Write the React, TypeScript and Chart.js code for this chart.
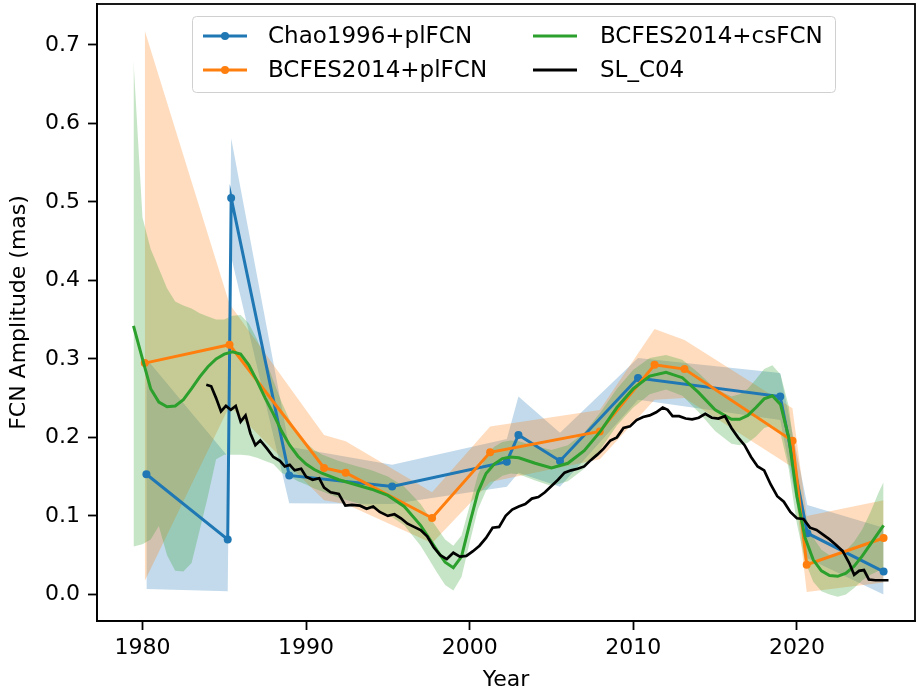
import React, { useEffect, useRef } from "react";
import { Chart, registerables } from "chart.js";

Chart.register(...registerables);

const FONT = "'DejaVu Sans', sans-serif";

// ---------------- data ----------------
const xTickValues = [1980, 1990, 2000, 2010, 2020];
const yTickValues = [0, 0.1, 0.2, 0.3, 0.4, 0.5, 0.6, 0.7];
const seriesNames = ["Chao1996+plFCN", "BCFES2014+plFCN", "BCFES2014+csFCN", "SL_C04"];

// Chao1996+plFCN
const chaoYears = [1980.24, 1985.21, 1985.42, 1988.97, 1995.26, 2002.27, 2002.98, 2005.52, 2010.29, 2018.98, 2020.64, 2025.3];
const chaoAmp = [0.153, 0.07, 0.505, 0.1515, 0.1375, 0.169, 0.203, 0.17, 0.2755, 0.252, 0.078, 0.029];
const chaoLow = [0.007, 0.004, 0.43, 0.116, 0.115, 0.137, 0.155, 0.137, 0.248, 0.222, 0.046, 0.0];
const chaoHigh = [0.3, 0.176, 0.581, 0.188, 0.165, 0.198, 0.252, 0.206, 0.301, 0.282, 0.114, 0.085];

// BCFES2014+plFCN
const bcplYears = [1980.14, 1985.32, 1991.1, 1992.42, 1997.7, 2001.25, 2007.95, 2011.3, 2013.13, 2019.73, 2020.6, 2025.3];
const bcplAmp = [0.2946, 0.318, 0.161, 0.155, 0.0973, 0.181, 0.2076, 0.2925, 0.287, 0.1957, 0.0378, 0.0718];
const bcplLow = [0.017, 0.24, 0.12, 0.115, 0.065, 0.143, 0.172, 0.248, 0.25, 0.162, 0.003, 0.015];
const bcplHigh = [0.718, 0.37, 0.203, 0.195, 0.13, 0.214, 0.235, 0.338, 0.324, 0.237, 0.1, 0.12];

// BCFES2014+csFCN
const bccsYears = [1979.45, 1980.0, 1980.5, 1981.0, 1981.5, 1982.0, 1982.5, 1983.0, 1983.5, 1984.0, 1984.5, 1985.0, 1985.5, 1986.0, 1986.5, 1987.0, 1987.5, 1988.0, 1988.5, 1989.0, 1989.5, 1990.0, 1990.5, 1991.0, 1992.0, 1993.0, 1994.0, 1995.0, 1996.0, 1997.0, 1997.5, 1998.0, 1998.5, 1999.0, 1999.5, 2000.0, 2000.5, 2001.0, 2001.5, 2002.0, 2002.5, 2003.0, 2004.0, 2005.0, 2006.0, 2007.0, 2008.0, 2009.0, 2010.0, 2011.0, 2012.0, 2013.0, 2014.0, 2015.0, 2016.0, 2016.5, 2017.0, 2017.5, 2018.0, 2018.5, 2019.0, 2019.5, 2020.0, 2020.5, 2021.0, 2021.5, 2022.0, 2022.5, 2023.0, 2023.5, 2024.0, 2024.5, 2025.0, 2025.3];
const bccsAmp = [0.342, 0.3, 0.262, 0.245, 0.239, 0.24, 0.248, 0.262, 0.277, 0.29, 0.3, 0.306, 0.309, 0.306, 0.292, 0.272, 0.25, 0.23, 0.208, 0.19, 0.176, 0.166, 0.159, 0.154, 0.146, 0.14, 0.134, 0.126, 0.112, 0.088, 0.072, 0.056, 0.041, 0.034, 0.048, 0.09, 0.13, 0.154, 0.166, 0.173, 0.175, 0.174, 0.167, 0.161, 0.167, 0.183, 0.208, 0.238, 0.262, 0.278, 0.283, 0.276, 0.257, 0.235, 0.223, 0.223, 0.228, 0.238, 0.249, 0.253, 0.242, 0.2, 0.125, 0.072, 0.044, 0.03, 0.024, 0.023, 0.027, 0.036, 0.049, 0.064, 0.079, 0.088];
const bccsHigh = [0.68, 0.48, 0.44, 0.415, 0.39, 0.373, 0.368, 0.364, 0.358, 0.354, 0.35, 0.35, 0.355, 0.356, 0.345, 0.325, 0.3, 0.272, 0.245, 0.222, 0.205, 0.193, 0.184, 0.178, 0.17, 0.164, 0.158, 0.15, 0.137, 0.115, 0.1, 0.085, 0.07, 0.062, 0.075, 0.113, 0.152, 0.176, 0.188, 0.194, 0.196, 0.195, 0.189, 0.184, 0.19, 0.206, 0.232, 0.262, 0.286, 0.301, 0.305, 0.299, 0.282, 0.262, 0.252, 0.255, 0.262, 0.274, 0.287, 0.292, 0.28, 0.24, 0.16, 0.102, 0.072, 0.057, 0.05, 0.05, 0.056, 0.067, 0.083, 0.105, 0.13, 0.143];
const bccsLow = [0.061, 0.064, 0.07, 0.087, 0.05, 0.03, 0.029, 0.04, 0.082, 0.125, 0.172, 0.178, 0.178, 0.178, 0.177, 0.174, 0.17, 0.166, 0.155, 0.15, 0.144, 0.14, 0.135, 0.131, 0.123, 0.117, 0.11, 0.102, 0.088, 0.062, 0.045, 0.028, 0.012, 0.005, 0.022, 0.066, 0.108, 0.132, 0.144, 0.151, 0.154, 0.153, 0.145, 0.138, 0.144, 0.16, 0.185, 0.215, 0.238, 0.255, 0.261, 0.253, 0.232, 0.208, 0.192, 0.19, 0.193, 0.201, 0.212, 0.215, 0.205, 0.16, 0.09, 0.042, 0.016, 0.004, 0.0, -0.003, 0.0, 0.008, 0.018, 0.025, 0.03, 0.033];

// SL_C04
const slYears = [1983.9, 1984.2, 1984.5, 1984.8, 1985.1, 1985.4, 1985.7, 1986.0, 1986.3, 1986.6, 1986.9, 1987.2, 1987.6, 1988.0, 1988.4, 1988.7, 1989.0, 1989.3, 1989.7, 1990.0, 1990.4, 1990.8, 1991.1, 1991.5, 1992.0, 1992.4, 1992.8, 1993.3, 1993.7, 1994.1, 1994.5, 1995.0, 1995.4, 1995.8, 1996.2, 1996.6, 1997.0, 1997.4, 1997.8, 1998.2, 1998.6, 1999.0, 1999.4, 1999.8, 2000.2, 2000.6, 2001.0, 2001.4, 2001.8, 2002.2, 2002.6, 2003.0, 2003.4, 2003.8, 2004.2, 2004.6, 2005.0, 2005.4, 2005.8, 2006.2, 2006.6, 2007.0, 2007.4, 2007.8, 2008.2, 2008.6, 2009.0, 2009.4, 2009.8, 2010.2, 2010.6, 2011.0, 2011.4, 2011.8, 2012.1, 2012.4, 2012.8, 2013.2, 2013.6, 2014.0, 2014.4, 2014.8, 2015.2, 2015.6, 2016.0, 2016.4, 2016.8, 2017.2, 2017.6, 2018.0, 2018.4, 2018.8, 2019.2, 2019.6, 2020.0, 2020.4, 2020.8, 2021.2, 2021.6, 2022.0, 2022.4, 2022.8, 2023.2, 2023.5, 2023.8, 2024.1, 2024.4, 2024.8, 2025.6];
const slAmp = [0.267, 0.265, 0.25, 0.233, 0.24, 0.235, 0.24, 0.22, 0.228, 0.205, 0.19, 0.196, 0.186, 0.175, 0.17, 0.163, 0.165, 0.158, 0.16, 0.15, 0.146, 0.148, 0.136, 0.13, 0.128, 0.113, 0.114, 0.113, 0.109, 0.112, 0.105, 0.1, 0.102, 0.097, 0.09, 0.086, 0.082, 0.074, 0.06, 0.05, 0.045, 0.053, 0.048, 0.049, 0.055, 0.062, 0.072, 0.085, 0.086, 0.1, 0.108, 0.112, 0.115, 0.122, 0.124, 0.13, 0.138, 0.146, 0.155, 0.158, 0.16, 0.163, 0.171, 0.178, 0.186, 0.196, 0.2, 0.212, 0.214, 0.222, 0.226, 0.228, 0.232, 0.238, 0.235, 0.227, 0.227, 0.224, 0.223, 0.225, 0.23, 0.225, 0.224, 0.227, 0.212, 0.2, 0.19, 0.175, 0.163, 0.158, 0.14, 0.125, 0.118, 0.105, 0.097, 0.096, 0.085, 0.082, 0.076, 0.07, 0.063, 0.055, 0.04, 0.025, 0.03, 0.031, 0.019, 0.018, 0.018];

// ---------------- helpers ----------------
const BLUE = "#1f77b4";
const ORANGE = "#ff7f0e";
const GREEN = "#2ca02c";
const BLACK = "#000000";
const BAND_ALPHA = 0.27;
const TICK_SIZE = 22;
const LEGEND_SIZE = 23;

const pts = (xs: number[], ys: number[]) => xs.map((x, i) => ({ x, y: ys[i] }));
const rgba = (hex: string, a: number) => {
  const r = parseInt(hex.slice(1, 3), 16);
  const g = parseInt(hex.slice(3, 5), 16);
  const b = parseInt(hex.slice(5, 7), 16);
  return `rgba(${r},${g},${b},${a})`;
};

const bandPair = (xs: number[], lo: number[], hi: number[], color: string, order: number) => [
  {
    label: "_lo",
    data: pts(xs, lo),
    borderWidth: 0,
    borderColor: "rgba(0,0,0,0)",
    pointRadius: 0,
    fill: false,
    order,
  },
  {
    label: "_hi",
    data: pts(xs, hi),
    borderWidth: 0,
    borderColor: "rgba(0,0,0,0)",
    backgroundColor: rgba(color, BAND_ALPHA),
    pointRadius: 0,
    fill: "-1",
    order,
  },
];

const lineSet = (label: string, xs: number[], ys: number[], color: string, order: number, markers: boolean, width = 3) => ({
  label,
  data: pts(xs, ys),
  borderColor: color,
  backgroundColor: color,
  borderWidth: width,
  pointRadius: markers ? 4 : 0,
  pointBorderWidth: 0,
  pointBackgroundColor: color,
  fill: false,
  tension: 0,
  order,
});

const legendItems = [
  { name: seriesNames[0], color: BLUE, marker: true, col: 0, row: 0 },
  { name: seriesNames[1], color: ORANGE, marker: true, col: 0, row: 1 },
  { name: seriesNames[2], color: GREEN, marker: false, col: 1, row: 0 },
  { name: seriesNames[3], color: BLACK, marker: false, col: 1, row: 1 },
];

const frameAndLegend = {
  id: "frameAndLegend",
  afterDatasetsDraw(chart: any) {
    const { ctx, chartArea } = chart;
    ctx.save();
    ctx.strokeStyle = "#000";
    ctx.lineWidth = 1.8;
    ctx.strokeRect(chartArea.left, chartArea.top, chartArea.right - chartArea.left, chartArea.bottom - chartArea.top);
    ctx.restore();
  },
  afterDraw(chart: any) {
    const { ctx } = chart;
    ctx.save();
    const bx = 192, by = 16, bw = 643, bh = 76;
    ctx.beginPath();
    ctx.roundRect(bx + 0.5, by + 0.5, bw, bh, 4);
    ctx.fillStyle = "rgba(255,255,255,0.8)";
    ctx.fill();
    ctx.strokeStyle = "#d0d0d0";
    ctx.lineWidth = 1;
    ctx.stroke();
    const handleX = [203, 533];
    const textX = [268, 600];
    const rowY = [36, 70];
    const handleLen = 44;
    ctx.font = `${LEGEND_SIZE}px ${FONT}`;
    ctx.textBaseline = "middle";
    ctx.textAlign = "left";
    legendItems.forEach((it) => {
      const x0 = handleX[it.col];
      const y = rowY[it.row];
      ctx.strokeStyle = it.color;
      ctx.lineWidth = 3;
      ctx.beginPath();
      ctx.moveTo(x0, y);
      ctx.lineTo(x0 + handleLen, y);
      ctx.stroke();
      if (it.marker) {
        ctx.fillStyle = it.color;
        ctx.beginPath();
        ctx.arc(x0 + handleLen / 2, y, 4, 0, Math.PI * 2);
        ctx.fill();
      }
      ctx.fillStyle = "#000";
      ctx.fillText(it.name, textX[it.col], y + 1);
    });
    ctx.restore();
  },
};

export default function App() {
  const canvasRef = useRef<HTMLCanvasElement | null>(null);

  useEffect(() => {
    const canvas = canvasRef.current;
    if (!canvas) return;
    const tickFont = { family: FONT, size: TICK_SIZE };
    const chart = new Chart(canvas, {
      type: "line",
      data: {
        datasets: [
          lineSet(seriesNames[3], slYears, slAmp, BLACK, 1, false, 2.7),
          lineSet(seriesNames[2], bccsYears, bccsAmp, GREEN, 2, false),
          lineSet(seriesNames[1], bcplYears, bcplAmp, ORANGE, 3, true),
          lineSet(seriesNames[0], chaoYears, chaoAmp, BLUE, 4, true),
          ...bandPair(chaoYears, chaoLow, chaoHigh, BLUE, 13),
          ...bandPair(bcplYears, bcplLow, bcplHigh, ORANGE, 12),
          ...bandPair(bccsYears, bccsLow, bccsHigh, GREEN, 11),
        ] as any,
      },
      options: {
        animation: false,
        responsive: false,
        devicePixelRatio: 1,
        layout: { padding: { top: 4, right: 1, left: 0, bottom: 0 } },
        plugins: {
          legend: { display: false },
          tooltip: { enabled: false },
          filler: { drawTime: "beforeDatasetsDraw", propagate: false },
        } as any,
        scales: {
          x: {
            type: "linear",
            min: 1977.22,
            max: 2027.22,
            afterBuildTicks: (s: any) => {
              s.ticks = xTickValues.map((v) => ({ value: v }));
            },
            afterFit: (s: any) => {
              s.height = 72;
              s.paddingLeft = 0;
              s.paddingRight = 0;
            },
            ticks: {
              font: tickFont,
              color: "#000",
              padding: 5,
              maxRotation: 0,
              callback: (v: any) => String(v),
            },
            grid: {
              display: true,
              drawOnChartArea: false,
              drawTicks: true,
              tickLength: 9,
              tickWidth: 1.8,
              tickColor: "#000",
            },
            border: { display: true, color: "#000", width: 1.8 },
            title: { display: true, text: "Year", font: tickFont, color: "#000", padding: { top: 0, bottom: 0 } },
          },
          y: {
            type: "linear",
            min: -0.0339,
            max: 0.752,
            afterBuildTicks: (s: any) => {
              s.ticks = yTickValues.map((v) => ({ value: v }));
            },
            afterFit: (s: any) => {
              s.width = 97;
              s.paddingTop = 0;
              s.paddingBottom = 0;
            },
            ticks: {
              font: tickFont,
              color: "#000",
              padding: 8,
              callback: (v: any) => Number(v).toFixed(1),
            },
            grid: {
              display: true,
              drawOnChartArea: false,
              drawTicks: true,
              tickLength: 9,
              tickWidth: 1.8,
              tickColor: "#000",
            },
            border: { display: true, color: "#000", width: 1.8 },
            title: { display: true, text: "FCN Amplitude (mas)", font: tickFont, color: "#000", padding: { top: 6, bottom: 0 } },
          },
        },
      } as any,
      plugins: [frameAndLegend],
    });
    return () => chart.destroy();
  }, []);

  return (
    <div style={{ position: "absolute", left: 0, top: 0, width: 919, height: 693, background: "#fff" }}>
      <canvas ref={canvasRef} width={919} height={693} style={{ display: "block", width: 919, height: 693 }} />
    </div>
  );
}
